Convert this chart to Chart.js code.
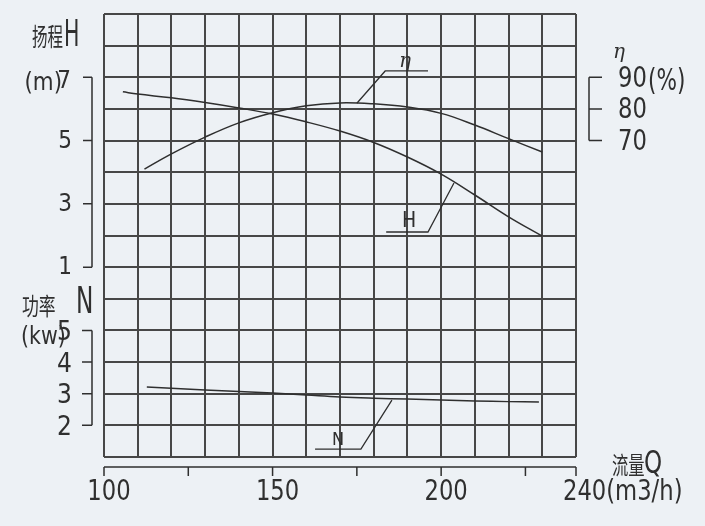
<!DOCTYPE html>
<html>
<head>
<meta charset="utf-8">
<script src="https://cdn.jsdelivr.net/npm/chart.js@4/dist/chart.umd.min.js"></script>
<style>
html,body{margin:0;padding:0;background:#edf1f5;}
#wrap{width:705px;height:526px;}
</style>
</head>
<body>
<div id="wrap"><canvas id="c" width="705" height="526"></canvas></div>
<script>
// ---- data ----
const Q_H   = [105.6, 110, 120, 130, 140, 150, 160, 170, 180, 190, 200, 210, 220, 230];
const H_VALUES = [6.54, 6.47, 6.35, 6.20, 6.03, 5.84, 5.59, 5.30, 4.94, 4.48, 3.94, 3.28, 2.59, 1.98];

const Q_ETA = [112, 120, 130, 140, 150, 160, 170, 180, 190, 200, 210, 220, 230];
const ETA_VALUES = [61.0, 65.8, 71.1, 75.6, 78.8, 81.0, 81.9, 81.6, 80.6, 78.6, 74.9, 70.6, 66.4];

const Q_N   = [112.7, 130, 150, 160, 170, 180, 190, 200, 210, 220, 229];
const N_VALUES = [3.21, 3.12, 3.02, 2.96, 2.90, 2.86, 2.83, 2.80, 2.77, 2.75, 2.74];

// tick labels
const X_TICK_MARKS = [100, 125, 150, 175, 200, 225, 240];
const X_TICK_LABELS = [100, 150, 200];
const X_LAST_LABEL = "240(m3/h)";
const H_TICKS = [1, 3, 5, 7];
const N_TICKS = [2, 3, 4, 5];
const ETA_TICKS = [70, 80, 90];

// leader lines for curve labels (data coordinates)
const ETA_LEADER_Q = [175, 183.4, 196.1];
const ETA_LEADER_V = [81.8, 92, 92];
const H_LEADER_Q = [203.8, 196.1, 183.7];
const H_LEADER_V = [3.66, 2.11, 2.11];
const N_LEADER_Q = [185.4, 176.2, 162.6];
const N_LEADER_V = [2.80, 1.25, 1.25];

const INK = '#2f2f2f';
const GRID = '#474747';
const NARROW = '"Liberation Sans Narrow","DejaVu Sans Condensed","Arial Narrow",sans-serif';
const CJK = '"Noto Sans CJK SC",sans-serif';

function pts(xs, ys){ return xs.map((x,i)=>({x:x, y:ys[i]})); }

function curve(label, xs, ys, axis){
  return {label, data: pts(xs, ys), yAxisID: axis, borderColor: INK, borderWidth: 1.5,
    pointRadius: 0, fill: false, tension: 0.4};
}
function leader(label, xs, ys, axis){
  return {label, data: pts(xs, ys), yAxisID: axis, borderColor: INK, borderWidth: 1.3,
    pointRadius: 0, fill: false, tension: 0};
}

function txt(ctx, s, x, y, font, align, sx){
  ctx.save();
  ctx.font = font;
  ctx.fillStyle = INK;
  ctx.textBaseline = 'middle';
  sx = sx || 1;
  const w = ctx.measureText(s).width * sx;
  let left = x;
  if (align === 'right') left = x - w;
  else if (align === 'center') left = x - w/2;
  ctx.translate(left, y);
  ctx.scale(sx, 1);
  ctx.textAlign = 'left';
  ctx.fillText(s, 0, 0);
  ctx.restore();
}

const decor = {
  id: 'decor',
  beforeDraw(chart){
    const ctx = chart.ctx;
    ctx.save();
    ctx.fillStyle = '#edf1f5';
    ctx.fillRect(0, 0, chart.width, chart.height);
    ctx.restore();
  },
  afterDraw(chart){
    const ctx = chart.ctx;
    const s = chart.scales;
    const ca = chart.chartArea;
    ctx.save();
    ctx.strokeStyle = INK;
    ctx.lineWidth = 1.5;

    // H bracket (left)
    const bx = ca.left - 12;
    ctx.beginPath();
    ctx.moveTo(bx, s.yH.getPixelForValue(H_TICKS[H_TICKS.length-1]));
    ctx.lineTo(bx, s.yH.getPixelForValue(H_TICKS[0]));
    H_TICKS.forEach(v=>{ const y = s.yH.getPixelForValue(v); ctx.moveTo(bx-9, y); ctx.lineTo(bx, y); });
    ctx.stroke();
    H_TICKS.forEach(v=>{
      const y = s.yH.getPixelForValue(v);
      if (v === 7) {
        txt(ctx, '(m)', 62, y+6, '25px '+NARROW, 'right', 0.95);
        txt(ctx, String(v), 71, y+4, '24px '+NARROW, 'right');
      } else {
        txt(ctx, String(v), 72, y+1, '24px '+NARROW, 'right');
      }
    });

    // N bracket
    ctx.beginPath();
    ctx.moveTo(bx, s.yN.getPixelForValue(N_TICKS[N_TICKS.length-1]));
    ctx.lineTo(bx, s.yN.getPixelForValue(N_TICKS[0]));
    N_TICKS.forEach(v=>{ const y = s.yN.getPixelForValue(v); ctx.moveTo(bx-10, y); ctx.lineTo(bx, y); });
    ctx.stroke();
    N_TICKS.forEach(v=>{
      const y = s.yN.getPixelForValue(v);
      txt(ctx, String(v), 72, y+3, '26px '+NARROW, 'right');
    });

    // eta bracket (right)
    const rx = ca.right + 13;
    ctx.beginPath();
    ctx.moveTo(rx, s.yEta.getPixelForValue(ETA_TICKS[ETA_TICKS.length-1]));
    ctx.lineTo(rx, s.yEta.getPixelForValue(ETA_TICKS[0]));
    ETA_TICKS.forEach(v=>{ const y = s.yEta.getPixelForValue(v); ctx.moveTo(rx, y); ctx.lineTo(rx+13, y); });
    ctx.stroke();
    ETA_TICKS.forEach(v=>{
      const y = s.yEta.getPixelForValue(v);
      txt(ctx, String(v), 618, y+2, '28px '+NARROW, 'left', 0.9);
      if (v === 90) txt(ctx, '(%)', 648, y+5, '30px '+NARROW, 'left', 0.8);
    });
    txt(ctx, 'η', 613, 53, 'italic 20px "DejaVu Serif",serif', 'left');

    // x axis line with ticks
    const ay = ca.bottom + 10;
    ctx.beginPath();
    ctx.moveTo(s.x.getPixelForValue(X_TICK_MARKS[0]), ay);
    ctx.lineTo(s.x.getPixelForValue(X_TICK_MARKS[X_TICK_MARKS.length-1]), ay);
    X_TICK_MARKS.forEach(v=>{ const x = s.x.getPixelForValue(v); ctx.moveTo(x, ay); ctx.lineTo(x, ay+9); });
    ctx.stroke();
    X_TICK_LABELS.forEach(v=>{
      txt(ctx, String(v), s.x.getPixelForValue(v)+5, 493, '28px '+NARROW, 'center', 0.9);
    });
    txt(ctx, X_LAST_LABEL, s.x.getPixelForValue(240)-13, 493, '28px '+NARROW, 'left', 0.9);

    // axis titles
    txt(ctx, '扬程', 32, 36, '25px '+CJK, 'left', 0.62);
    txt(ctx, 'H', 64, 36, '38px '+NARROW, 'left', 0.6);
    txt(ctx, '功率', 22, 306, '24px '+CJK, 'left', 0.7);
    txt(ctx, 'N', 76, 303, '38px '+NARROW, 'left', 0.68);
    txt(ctx, '(kw)', 21, 338, '24px '+NARROW, 'left', 0.95);
    txt(ctx, '流量', 612, 465, '24px '+CJK, 'left', 0.68);
    txt(ctx, 'Q', 644, 465, '32px '+NARROW, 'left', 0.8);

    // curve labels
    txt(ctx, 'η', s.x.getPixelForValue(189.3), s.yEta.getPixelForValue(94.8), 'italic 20px "DejaVu Serif",serif', 'center');
    txt(ctx, 'H', s.x.getPixelForValue(190.5), s.yH.getPixelForValue(2.43), '21px '+NARROW, 'center');
    txt(ctx, 'N', s.x.getPixelForValue(169.4), s.yN.getPixelForValue(1.54), '18px '+NARROW, 'center');
    ctx.restore();
  }
};

new Chart(document.getElementById('c'), {
  type: 'line',
  data: {
    datasets: [
      curve('H', Q_H, H_VALUES, 'yH'),
      curve('η', Q_ETA, ETA_VALUES, 'yEta'),
      curve('N', Q_N, N_VALUES, 'yN'),
      leader('ηlabel', ETA_LEADER_Q, ETA_LEADER_V, 'yEta'),
      leader('Hlabel', H_LEADER_Q, H_LEADER_V, 'yH'),
      leader('Nlabel', N_LEADER_Q, N_LEADER_V, 'yN')
    ]
  },
  options: {
    responsive: false,
    animation: false,
    layout: {padding: {left: 104, top: 14, right: 129, bottom: 69}},
    plugins: {legend: {display: false}, tooltip: {enabled: false}},
    scales: {
      x: {type: 'linear', min: 100, max: 240,
          ticks: {display: false, stepSize: 10},
          grid: {color: GRID, lineWidth: 2, drawTicks: false},
          border: {display: false}},
      yGrid: {type: 'linear', position: 'left', min: 0, max: 14,
          ticks: {display: false, stepSize: 1},
          grid: {color: GRID, lineWidth: 2, drawTicks: false},
          border: {display: false}},
      yH: {type: 'linear', display: false, min: -5, max: 9},
      yN: {type: 'linear', display: false, min: 1, max: 15},
      yEta: {type: 'linear', display: false, min: -30, max: 110}
    }
  },
  plugins: [decor]
});
</script>
</body>
</html>
